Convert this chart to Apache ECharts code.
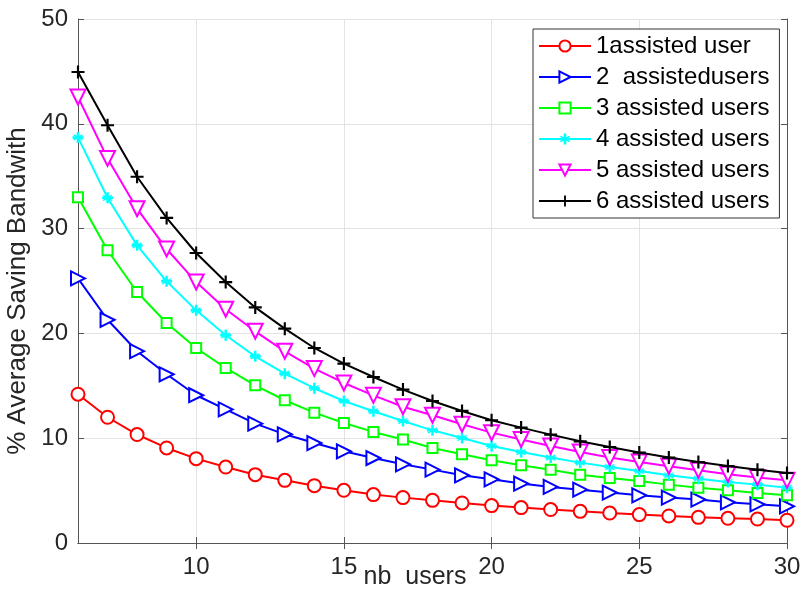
<!DOCTYPE html>
<html><head><meta charset="utf-8">
<script src="https://cdn.jsdelivr.net/npm/echarts@6/dist/echarts.min.js"></script>
<style>html,body{margin:0;padding:0;background:#fff}#c{width:801px;height:590px}</style>
</head><body><div id="c"></div>
<script>
var nbUsers = [6,7,8,9,10,11,12,13,14,15,16,17,18,19,20,21,22,23,24,25,26,27,28,29,30];
var assisted1 = [14.2,12.0,10.35,9.07,8.05,7.25,6.52,5.98,5.47,5.03,4.62,4.33,4.07,3.82,3.57,3.38,3.19,3.02,2.86,2.71,2.58,2.45,2.36,2.29,2.17];
var assisted2 = [25.25,21.3,18.3,16.1,14.1,12.75,11.39,10.37,9.54,8.75,8.11,7.51,7.0,6.46,6.08,5.67,5.35,5.09,4.81,4.55,4.33,4.14,3.88,3.69,3.5];
var assisted3 = [33.0,27.93,23.95,20.99,18.6,16.7,15.05,13.62,12.44,11.45,10.6,9.87,9.07,8.46,7.89,7.41,7.0,6.52,6.2,5.92,5.57,5.28,5.03,4.77,4.55];
var assisted4 = [38.7,32.94,28.4,24.97,22.2,19.82,17.81,16.16,14.77,13.55,12.57,11.64,10.75,10.02,9.26,8.68,8.15,7.67,7.25,6.87,6.46,6.14,5.82,5.57,5.28];
var assisted5 = [42.56,36.7,31.9,28.05,24.9,22.3,20.2,18.29,16.64,15.27,14.09,13.0,12.19,11.33,10.53,9.87,9.26,8.68,8.15,7.73,7.32,6.94,6.56,6.24,5.98];
var assisted6 = [44.94,39.86,34.95,31.02,27.67,24.9,22.48,20.45,18.61,17.12,15.84,14.64,13.55,12.6,11.71,11.01,10.34,9.7,9.16,8.63,8.15,7.73,7.35,7.0,6.68];
var seriesNames = ['1assisted user','2  assistedusers','3 assisted users','4 assisted users','5 assisted users','6 assisted users'];
var xTicks = [10,15,20,25,30];
var yTicks = [0,10,20,30,40,50];

var allData = [assisted1,assisted2,assisted3,assisted4,assisted5,assisted6];
var colors = ['#ff0000','#0000ff','#00ff00','#00ffff','#ff00ff','#000000'];
var plusPath = 'path://M-1,-6L1,-6L1,-1L6,-1L6,1L1,1L1,6L-1,6L-1,1L-6,1L-6,-1L-1,-1Z';
var starPath = 'path://M-1.4,-6L1.4,-6L1.4,-1.4L6,-1.4L6,1.4L1.4,1.4L1.4,6L-1.4,6L-1.4,1.4L-6,1.4L-6,-1.4L-1.4,-1.4Z M-4.4,-3.4L0,-1L4.4,-3.4L5.4,-2.4L1,0L5.4,2.4L4.4,3.4L0,1L-4.4,3.4L-5.4,2.4L-1,0L-5.4,-2.4Z';
var symbols = ['emptyCircle','emptyTriangle','emptyRect',starPath,'emptyTriangle',plusPath];
var sizes = [13,14,10,11,15,13];
var rotates = [0,-90,0,0,180,0];

var font = 'Liberation Sans, Arial, Helvetica, sans-serif';
var axisCol = '#555555';
var series = allData.map(function(d,i){
  return {
    name: seriesNames[i], type:'line', data: nbUsers.map(function(x,j){return [x,d[j]];}),
    symbol: symbols[i], symbolSize: sizes[i], symbolRotate: rotates[i], showAllSymbol:true,
    lineStyle:{color:colors[i], width:2}, itemStyle:{color:colors[i], borderWidth:2},
    emphasis:{disabled:true}, animation:false, z: 2+i
  };
});

var chart = echarts.init(document.getElementById('c'), null, {renderer:'canvas'});
chart.setOption({
  backgroundColor:'#fff',
  animation:false,
  textStyle:{fontFamily:font},
  grid:{left:78, right:14, top:19, bottom:47, containLabel:false, outerBoundsMode:'none'},
  legend:{
    orient:'vertical', left:533, top:29, itemWidth:52, itemHeight:14, itemGap:7,
    padding:[5,10,5,5], backgroundColor:'#fff', borderColor:'#333', borderWidth:1, borderRadius:0,
    textStyle:{fontFamily:font, fontSize:24, color:'#000', lineHeight:24},
    data: seriesNames
  },
  xAxis:[{
    type:'value', min:6, max:30,
    name:'nb  users', nameLocation:'middle', nameGap:22, nameMoveOverlap:false,
    nameTextStyle:{fontFamily:font, fontSize:25, color:'#262626', padding:[0,35,0,0]},
    axisLine:{show:true, lineStyle:{color:axisCol, width:1}},
    axisTick:{show:true, inside:true, length:6, customValues:xTicks, lineStyle:{color:axisCol}},
    axisLabel:{customValues:xTicks, fontFamily:font, fontSize:24, color:'#262626', margin:12},
    splitLine:{show:true, lineStyle:{color:'#e3e3e3', width:1}}
  },{
    type:'value', min:6, max:30, position:'top',
    axisLine:{show:true, lineStyle:{color:axisCol, width:1}},
    axisTick:{show:true, inside:true, length:6, customValues:xTicks, lineStyle:{color:axisCol}},
    axisLabel:{show:false}, splitLine:{show:false}
  }],
  yAxis:[{
    type:'value', min:0, max:50, interval:10,
    name:'% Average Saving Bandwith', nameLocation:'middle', nameGap:47, nameRotate:90, nameMoveOverlap:false,
    nameTextStyle:{fontFamily:font, fontSize:26, color:'#262626', padding:[0,20,0,0]},
    axisLine:{show:true, lineStyle:{color:axisCol, width:1}},
    axisTick:{show:true, inside:true, length:6, lineStyle:{color:axisCol}},
    axisLabel:{fontFamily:font, fontSize:24, color:'#262626', margin:10},
    splitLine:{show:true, lineStyle:{color:'#e3e3e3', width:1}}
  },{
    type:'value', min:0, max:50, interval:10, position:'right',
    axisLine:{show:true, lineStyle:{color:axisCol, width:1}},
    axisTick:{show:true, inside:true, length:6, lineStyle:{color:axisCol}},
    axisLabel:{show:false}, splitLine:{show:false}
  }],
  series: series
});
</script></body></html>
